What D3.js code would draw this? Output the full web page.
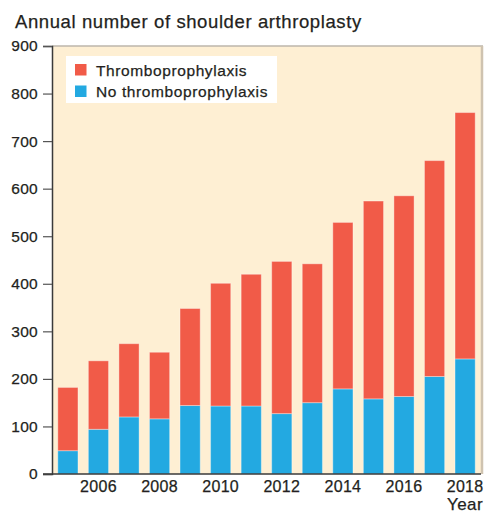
<!DOCTYPE html>
<html><head><meta charset="utf-8">
<script src="https://cdn.jsdelivr.net/npm/d3@7"></script>
<style>body{margin:0;background:#fff;} text{font-family:"Liberation Sans",Arial,sans-serif;fill:#231f20;stroke:#231f20;stroke-width:0.25px;}</style>
</head><body><svg id="c" width="484" height="514"></svg>
<script>
const years = [2005,2006,2007,2008,2009,2010,2011,2012,2013,2014,2015,2016,2017,2018];
const totals = [182,238,274,256,348,401,420,447,442,529,574,585,659,760];
const noThrombo = [49,94,120,116,144,143,143,127,150,179,158,163,205,242];
const thrombo = totals.map((t,i)=>t-noThrombo[i]);
const yTicks = [0,100,200,300,400,500,600,700,800,900];
const xTickLabels = [2006,2008,2010,2012,2014,2016,2018];
const seriesNames = ["Thromboprophylaxis","No thromboprophylaxis"];
const colors = {"Thromboprophylaxis":"#F15B48","No thromboprophylaxis":"#23A9E1"};

const svg = d3.select("#c");
const L=52, R=481, T=46, B=474;
const x = d3.scaleBand().domain(years).range([L,R]).paddingInner(0.34).paddingOuter(0.19);
const y = d3.scaleLinear().domain([0,900]).range([B,T]);

svg.append("rect").attr("x",L).attr("y",T).attr("width",R-L).attr("height",B-T).attr("fill","#FEEFD3");
svg.append("line").attr("x1",L).attr("x2",R+2).attr("y1",T).attr("y2",T).attr("stroke","#bdb6ab").attr("stroke-width",1.5);
svg.append("line").attr("x1",R+1).attr("x2",R+1).attr("y1",T).attr("y2",B).attr("stroke","#cfc3b0").attr("stroke-width",2.5);

const data = years.map((yr,i)=>({year:yr,"No thromboprophylaxis":noThrombo[i],"Thromboprophylaxis":thrombo[i]}));
const stack = d3.stack().keys(["No thromboprophylaxis","Thromboprophylaxis"])(data);
svg.append("g").selectAll("g").data(stack).join("g").attr("fill",d=>colors[d.key])
  .selectAll("rect").data(d=>d).join("rect")
  .attr("x",d=>x(d.data.year)).attr("width",x.bandwidth())
  .attr("y",d=>y(d[1])).attr("height",d=>y(d[0])-y(d[1]))
  .attr("stroke","rgba(255,255,255,0.35)").attr("stroke-width",1);

// y axis
const ya = svg.append("g").attr("transform",`translate(${L},0)`)
  .call(d3.axisLeft(y).tickValues(yTicks).tickSize(9).tickPadding(5));
ya.select(".domain").attr("stroke","#3a3a3a").attr("stroke-width",1.5);
ya.selectAll(".tick line").attr("stroke","#555").attr("stroke-width",1.2);
ya.selectAll("text").style("font-size","15.5px").style("letter-spacing","0.3px").attr("fill","#231f20");
// bottom line
svg.append("line").attr("x1",L-9).attr("x2",R).attr("y1",B).attr("y2",B).attr("stroke","#3a3a3a").attr("stroke-width",1.5);

// x axis labels
const xa = svg.append("g").attr("transform",`translate(0,${B})`)
  .call(d3.axisBottom(x).tickValues(xTickLabels).tickSize(0).tickPadding(7));
xa.select(".domain").remove();
xa.selectAll("text").style("font-size","16px").style("letter-spacing","0.3px").attr("fill","#231f20");

svg.append("text").attr("x",483).attr("y",510).attr("text-anchor","end").style("font-size","17px").style("letter-spacing","0.4px").text("Year");
svg.append("text").attr("x",15).attr("y",28).style("font-size","18.5px").style("letter-spacing","0.6px").text("Annual number of shoulder arthroplasty");

// legend
const lg = svg.append("g");
lg.append("rect").attr("x",66).attr("y",56).attr("width",211).attr("height",47).attr("fill","#fff");
seriesNames.forEach((n,i)=>{
  lg.append("rect").attr("x",75).attr("y",64+i*21.5).attr("width",11.5).attr("height",11.5).attr("fill",colors[n]);
  lg.append("text").attr("x",96).attr("y",75.5+i*21.5).style("font-size","15.5px").style("letter-spacing","0.6px").text(n);
});
</script></body></html>
